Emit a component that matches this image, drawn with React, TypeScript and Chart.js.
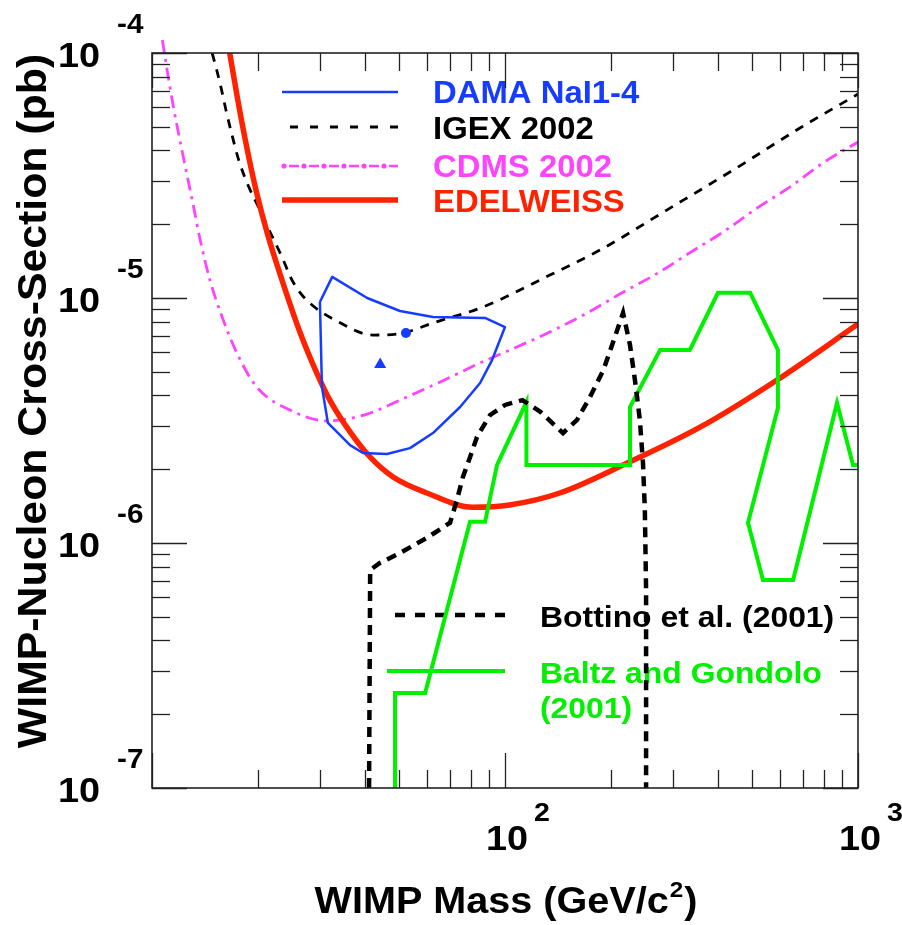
import React, { useEffect, useRef } from 'react';
import { Chart, registerables } from 'chart.js';

Chart.register(...registerables);

const FONT = '"Liberation Sans", Arial, Helvetica, sans-serif';

// ---- data (WIMP mass in GeV/c^2, cross-section in pb) ----
const edelMass = [16.6, 17.5, 18.5, 19.7, 21.2, 23.5, 26.3, 29.3, 31.9, 36.4, 41.5, 48.2, 60.1, 81.2, 103, 143, 222, 357, 590, 1000];
const edelSigma = [1.0e-4, 6.43e-5, 4.21e-5, 2.76e-5, 1.84e-5, 1.15e-5, 7.2e-6, 4.94e-6, 3.83e-6, 2.84e-6, 2.24e-6, 1.86e-6, 1.6e-6, 1.4e-6, 1.43e-6, 1.6e-6, 2.12e-6, 2.97e-6, 4.63e-6, 7.83e-6];

const igexMass = [14.8, 15.2, 15.7, 16.2, 16.85, 17.6, 18.7, 20.1, 21.6, 23.4, 24.8, 26.3, 28.4, 33.0, 42.3, 51.4, 62.5, 86.6, 134, 186, 288, 443, 685, 1000];
const igexSigma = [1.0e-4, 8.69e-5, 7.19e-5, 5.85e-5, 4.63e-5, 3.66e-5, 2.89e-5, 2.33e-5, 1.86e-5, 1.46e-5, 1.2e-5, 1.05e-5, 9.36e-6, 8.13e-6, 7.06e-6, 7.2e-6, 7.91e-6, 9.19e-6, 1.24e-5, 1.57e-5, 2.29e-5, 3.33e-5, 4.94e-5, 6.8e-5];

const cdmsMass = [10.7, 11.0, 11.5, 12.2, 13.0, 13.7, 14.6, 15.8, 17.4, 19.8, 24.6, 31.3, 40.7, 50.4, 65.5, 85.0, 108, 134, 171, 212, 270, 334, 415, 518, 642, 796, 1000];
const cdmsSigma = [1.13e-4, 8.77e-5, 6.02e-5, 3.91e-5, 2.51e-5, 1.72e-5, 1.18e-5, 8.37e-6, 5.96e-6, 4.33e-6, 3.49e-6, 3.15e-6, 3.36e-6, 3.83e-6, 4.54e-6, 5.43e-6, 6.31e-6, 7.26e-6, 8.69e-6, 1.04e-5, 1.26e-5, 1.53e-5, 1.86e-5, 2.33e-5, 2.84e-5, 3.56e-5, 4.33e-5];

const damaMass = [29.9, 32.4, 40.7, 50.4, 62.5, 87.8, 100, 91.9, 85.0, 74.6, 62.5, 53.8, 46.3, 39.6, 36.4, 31.5, 30.3, 29.9];
const damaSigma = [9.63e-6, 1.22e-5, 1.0e-5, 8.85e-6, 8.37e-6, 8.29e-6, 7.61e-6, 5.58e-6, 4.5e-6, 3.59e-6, 2.81e-6, 2.44e-6, 2.31e-6, 2.33e-6, 2.51e-6, 3.09e-6, 4.33e-6, 9.63e-6];

const damaCircle = { mass: 52.4, sigma: 7.2e-6 };
const damaTriangle = { mass: 44.3, sigma: 5.35e-6 };

const bottinoMass = [41.2, 41.5, 44.2, 50.4, 60.1, 69.9, 73.1, 76.0, 79.6, 83.3, 90.7, 100, 112, 126, 146, 160, 174, 190, 202, 216, 226, 234, 241, 246, 249, 251, 251];
const bottinoSigma = [1e-7, 7.76e-7, 8.29e-7, 9.1e-7, 1.05e-6, 1.21e-6, 1.5e-6, 1.86e-6, 2.24e-6, 2.71e-6, 3.33e-6, 3.66e-6, 3.83e-6, 3.43e-6, 2.81e-6, 3.18e-6, 3.94e-6, 5.08e-6, 6.55e-6, 8.69e-6, 6.43e-6, 4.5e-6, 3.18e-6, 2.12e-6, 1.36e-6, 6.43e-7, 1e-7];

const baltzMass = [48.8, 48.8, 59.4, 79.6, 87.8, 94.9, 115, 115, 226, 226, 275, 334, 401, 495, 593, 593, 488, 538, 655, 872, 968, 1000];
const baltzSigma = [1e-7, 2.44e-7, 2.44e-7, 1.22e-6, 1.22e-6, 2.08e-6, 3.76e-6, 2.08e-6, 2.08e-6, 3.59e-6, 6.14e-6, 6.14e-6, 1.05e-5, 1.05e-5, 6.14e-6, 3.56e-6, 1.21e-6, 7.06e-7, 7.06e-7, 3.73e-6, 2.08e-6, 2.08e-6];

const yTickExps = [-4, -5, -6, -7];
const xTickExps = [2, 3];

const legendTop = ['DAMA NaI1-4', 'IGEX 2002', 'CDMS 2002', 'EDELWEISS'];
const legendBottom = ['Bottino et al. (2001)', 'Baltz and Gondolo', '(2001)'];
const xTitle = ['WIMP Mass (GeV/c', '2', ')'];
const yTitle = 'WIMP-Nucleon Cross-Section (pb)';

const BLUE = '#163cff';
const MAGENTA = '#ff44ff';
const RED = '#ff2200';
const GREEN = '#00f000';

const pts = (xs: number[], ys: number[]) => xs.map((x, i) => ({ x, y: ys[i] }));

function sText(ctx: CanvasRenderingContext2D, text: string, x: number, y: number, size: number, color: string, align: CanvasTextAlign, sx: number) {
  ctx.save();
  ctx.font = `bold ${size}px ${FONT}`;
  ctx.fillStyle = color;
  ctx.textAlign = align;
  ctx.textBaseline = 'alphabetic';
  ctx.translate(x, y);
  ctx.scale(sx, 1);
  ctx.fillText(text, 0, 0);
  ctx.restore();
}
function tWidth(ctx: CanvasRenderingContext2D, text: string, size: number, sx: number) {
  ctx.save();
  ctx.font = `bold ${size}px ${FONT}`;
  const w = ctx.measureText(text).width * sx;
  ctx.restore();
  return w;
}
function seg(ctx: CanvasRenderingContext2D, x1: number, y1: number, x2: number, y2: number) {
  ctx.beginPath();
  ctx.moveTo(x1, y1);
  ctx.lineTo(x2, y2);
  ctx.stroke();
}

const decor = {
  id: 'decor',
  beforeDatasetsDraw(chart: any) {
    const ctx: CanvasRenderingContext2D = chart.ctx;
    // lower legend (drawn under the curves)
    ctx.save();
    ctx.strokeStyle = '#000';
    ctx.lineWidth = 4.5;
    ctx.setLineDash([10, 10]);
    seg(ctx, 395, 615, 505, 615);
    ctx.setLineDash([]);
    ctx.strokeStyle = GREEN;
    ctx.lineWidth = 4;
    seg(ctx, 387, 671, 505, 671);
    ctx.restore();
    sText(ctx, legendBottom[0], 540, 627, 29, '#000', 'left', 1.1);
    sText(ctx, legendBottom[1], 540, 683, 29, GREEN, 'left', 1.1);
    sText(ctx, legendBottom[2], 540, 718, 29, GREEN, 'left', 1.1);

    // upper legend
    ctx.save();
    ctx.lineWidth = 2.5;
    ctx.strokeStyle = BLUE;
    seg(ctx, 282, 92, 398, 92);
    ctx.strokeStyle = '#000';
    ctx.lineWidth = 2.8;
    ctx.setLineDash([8, 12]);
    seg(ctx, 290, 127, 398, 127);
    ctx.strokeStyle = MAGENTA;
    ctx.lineWidth = 2.5;
    ctx.setLineDash([10, 10]);
    ctx.lineDashOffset = -5;
    seg(ctx, 284, 166, 398, 166);
    ctx.setLineDash([]);
    ctx.fillStyle = MAGENTA;
    for (let k = 0; k < 6; k++) {
      ctx.beginPath();
      ctx.arc(284 + 20 * k, 166, 2.6, 0, Math.PI * 2);
      ctx.fill();
    }
    ctx.strokeStyle = RED;
    ctx.lineWidth = 5.5;
    seg(ctx, 282, 200, 398, 200);
    ctx.restore();
    const cols = [BLUE, '#000', MAGENTA, RED];
    const bases = [103, 139, 177, 212];
    legendTop.forEach((t, i) => sText(ctx, t, 433, bases[i], 31, cols[i], 'left', 1.06));
  },
  afterDraw(chart: any) {
    const ctx: CanvasRenderingContext2D = chart.ctx;
    const a = chart.chartArea;
    const xs = chart.scales.x;
    const ys = chart.scales.y;
    ctx.save();
    ctx.strokeStyle = '#222';
    ctx.lineWidth = 1.3;
    for (let e = 1; e <= 3; e++) {
      for (let m = 1; m <= 9; m++) {
        const v = m * Math.pow(10, e);
        if (v < 10 || v > 1000) continue;
        const p = Math.round(xs.getPixelForValue(v)) + 0.5;
        const L = m === 1 ? 35 : 18;
        seg(ctx, p, a.bottom, p, a.bottom - L);
        seg(ctx, p, a.top, p, a.top + L);
      }
    }
    for (let e = -7; e <= -4; e++) {
      for (let m = 1; m <= 9; m++) {
        const v = m * Math.pow(10, e);
        if (v < 1e-7 * 0.999 || v > 1e-4 * 1.001) continue;
        const p = Math.round(ys.getPixelForValue(v)) + 0.5;
        const L = m === 1 ? 35 : 18;
        seg(ctx, a.left, p, a.left + L, p);
        seg(ctx, a.right, p, a.right - L, p);
      }
    }
    ctx.lineWidth = 1.6;
    ctx.strokeRect(a.left, a.top, a.right - a.left, a.bottom - a.top);
    ctx.restore();

    // y tick labels
    yTickExps.forEach((e) => {
      const p = ys.getPixelForValue(Math.pow(10, e));
      sText(ctx, '10', 100, p + 14, 35, '#000', 'right', 1.08);
      sText(ctx, String(e), 117, p - 20, 27, '#000', 'left', 1.1);
    });
    // x tick labels
    xTickExps.forEach((e) => {
      const p = xs.getPixelForValue(Math.pow(10, e)) + 2;
      const w = tWidth(ctx, '10', 35, 1.08);
      sText(ctx, '10', p, 850, 35, '#000', 'center', 1.08);
      sText(ctx, String(e), p + w / 2 + 6, 821, 26, '#000', 'left', 1.1);
    });

    // x title
    const sx = 1.1;
    const w1 = tWidth(ctx, xTitle[0], 36, sx);
    const w2 = tWidth(ctx, xTitle[1], 22, sx);
    const w3 = tWidth(ctx, xTitle[2], 36, sx);
    const x0 = 505 - (w1 + w2 + w3) / 2;
    sText(ctx, xTitle[0], x0, 913, 36, '#000', 'left', sx);
    sText(ctx, xTitle[1], x0 + w1 + 1, 897, 22, '#000', 'left', sx);
    sText(ctx, xTitle[2], x0 + w1 + w2 + 2, 913, 36, '#000', 'left', sx);

    // y title
    ctx.save();
    ctx.translate(46, 401);
    ctx.rotate(-Math.PI / 2);
    ctx.scale(1.07, 1);
    ctx.font = `bold 40px ${FONT}`;
    ctx.fillStyle = '#000';
    ctx.textAlign = 'center';
    ctx.fillText(yTitle, 0, 0);
    ctx.restore();
  },
};

export default function App() {
  const ref = useRef<HTMLCanvasElement | null>(null);
  useEffect(() => {
    if (!ref.current) return;
    const chart = new Chart(ref.current, {
      type: 'scatter',
      data: {
        datasets: [
          {
            label: 'Bottino et al. (2001)',
            data: pts(bottinoMass, bottinoSigma),
            showLine: true,
            borderColor: '#000',
            borderWidth: 4.5,
            borderDash: [10, 7],
            pointRadius: 0,
            tension: 0,
          },
          {
            label: 'Baltz and Gondolo (2001)',
            data: pts(baltzMass, baltzSigma),
            showLine: true,
            borderColor: GREEN,
            borderWidth: 4,
            pointRadius: 0,
            tension: 0,
            borderJoinStyle: 'miter',
          },
          {
            label: 'DAMA circle',
            data: [{ x: damaCircle.mass, y: damaCircle.sigma }],
            showLine: false,
            pointStyle: 'circle',
            pointRadius: 5,
            backgroundColor: BLUE,
            borderColor: BLUE,
            borderWidth: 0,
          },
          {
            label: 'DAMA triangle',
            data: [{ x: damaTriangle.mass, y: damaTriangle.sigma }],
            showLine: false,
            pointStyle: 'triangle',
            pointRadius: 7,
            backgroundColor: BLUE,
            borderColor: BLUE,
            borderWidth: 0,
          },
          {
            label: 'DAMA NaI1-4',
            data: pts(damaMass, damaSigma),
            showLine: true,
            borderColor: BLUE,
            borderWidth: 2.5,
            pointRadius: 0,
            tension: 0,
            borderJoinStyle: 'round',
          },
          {
            label: 'EDELWEISS',
            data: pts(edelMass, edelSigma),
            showLine: true,
            borderColor: RED,
            borderWidth: 5.5,
            pointRadius: 0,
            cubicInterpolationMode: 'monotone',
          },
          {
            label: 'IGEX 2002',
            data: pts(igexMass, igexSigma),
            showLine: true,
            borderColor: '#000',
            borderWidth: 2.8,
            borderDash: [9, 8],
            pointRadius: 0,
            cubicInterpolationMode: 'monotone',
          },
          {
            label: 'CDMS 2002',
            data: pts(cdmsMass, cdmsSigma),
            showLine: true,
            borderColor: MAGENTA,
            borderWidth: 2.8,
            borderDash: [13, 6, 3, 6],
            pointRadius: 0,
            cubicInterpolationMode: 'monotone',
            clip: { left: 0, top: 20, right: 0, bottom: 0 },
          },
        ],
      } as any,
      options: {
        responsive: false,
        animation: false,
        devicePixelRatio: 1,
        layout: { padding: { left: 152, right: 44, top: 53, bottom: 137 } },
        scales: {
          x: { type: 'logarithmic', min: 10, max: 1000, display: false },
          y: { type: 'logarithmic', min: 1e-7, max: 1e-4, display: false },
        },
        plugins: { legend: { display: false }, tooltip: { enabled: false } },
        events: [],
      } as any,
      plugins: [decor],
    });
    return () => chart.destroy();
  }, []);
  return (
    <div style={{ position: 'absolute', left: 0, top: 0, width: 902, height: 925, background: '#fff' }}>
      <canvas ref={ref} width={902} height={925} style={{ width: 902, height: 925, display: 'block' }} />
    </div>
  );
}
